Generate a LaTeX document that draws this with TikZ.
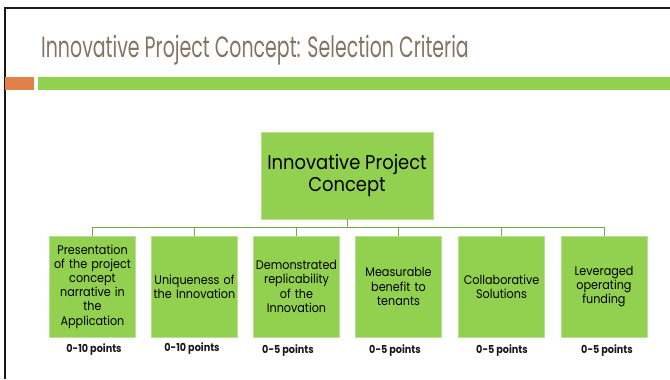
\documentclass[tikz,border=0pt]{standalone}
\usepackage{fontspec}
\setmainfont{Poppins}
\newfontfamily\titlefont[FakeStretch=0.645]{Poppins}
\newfontfamily\boxfont[FakeStretch=0.9]{Poppins}
\newfontfamily\ptsfont[FakeStretch=0.88]{Poppins}[BoldFont={* Bold}]
\definecolor{titlegray}{HTML}{857463}
\definecolor{barorange}{HTML}{DF8149}
\definecolor{bargreen}{HTML}{92D050}
\definecolor{boxedge}{HTML}{B9DF95}
\definecolor{linkgreen}{HTML}{76A744}
\definecolor{frameblack}{HTML}{1A1A1A}
\tikzset{
  chartbox/.style={draw=boxedge, line width=0.8pt, fill=bargreen, inner sep=1pt,
    align=center, text=black},
  rootbox/.style={chartbox, minimum width=172bp, minimum height=87bp,
    font=\boxfont\fontsize{20}{22}\selectfont},
  leafbox/.style={chartbox, minimum width=86bp, minimum height=101bp, text width=84bp,
    font=\boxfont\fontsize{12.5}{14.3}\selectfont},
  scorelabel/.style={font=\ptsfont\bfseries\fontsize{11}{12}\selectfont, text=black!90, inner sep=0pt},
  link/.style={draw=linkgreen, line width=1pt},
}
\begin{document}
\begin{tikzpicture}[x=1bp, y=-1bp]
  \useasboundingbox (0,0) rectangle (670,379);
  \fill[white] (0,0) rectangle (670,379);

  % slide frame
  \draw[frameblack, line width=2.4bp] (5,379) -- (5,8) -- (670,8);

  % title and accent bars
  \node[anchor=base west, inner sep=0pt, text=titlegray,
        font=\titlefont\fontsize{29.5}{32}\selectfont] (title) at (41,57)
        {Innovative Project Concept: Selection Criteria};
  \fill[barorange] (5,77) rectangle (34,90);
  \fill[bargreen] (38,77) rectangle (670,90);

  % chart nodes
  \node[rootbox] (root) at (347,175.5) {Innovative Project\\Concept};
  \node[leafbox] (c1) at (92.5,286.5) {Presentation\\of the project\\concept\\narrative in\\the\\Application};
  \node[leafbox] (c2) at (194.5,286.5) {Uniqueness of\\the Innovation};
  \node[leafbox] (c3) at (296.5,286.5) {Demonstrated\\replicability\\of the\\Innovation};
  \node[leafbox] (c4) at (398.5,286.5) {Measurable\\benefit to\\tenants};
  \node[leafbox] (c5) at (501.5,286.5) {Collaborative\\Solutions};
  \node[leafbox] (c6) at (604,286.5) {Leveraged\\operating\\funding};

  % connectors
  \foreach \c in {c1,c2,c3,c4,c5,c6}
    \draw[link] (root.south) -- ++(0,8) -| (\c.north);

  % score labels
  \node[scorelabel] (p1) at (94,350) {0-10 points};
  \node[scorelabel] (p2) at (192,349) {0-10 points};
  \node[scorelabel] (p3) at (288,351) {0-5 points};
  \node[scorelabel] (p4) at (395,351) {0-5 points};
  \node[scorelabel] (p5) at (502,351) {0-5 points};
  \node[scorelabel] (p6) at (607,351) {0-5 points};
\end{tikzpicture}
\end{document}
